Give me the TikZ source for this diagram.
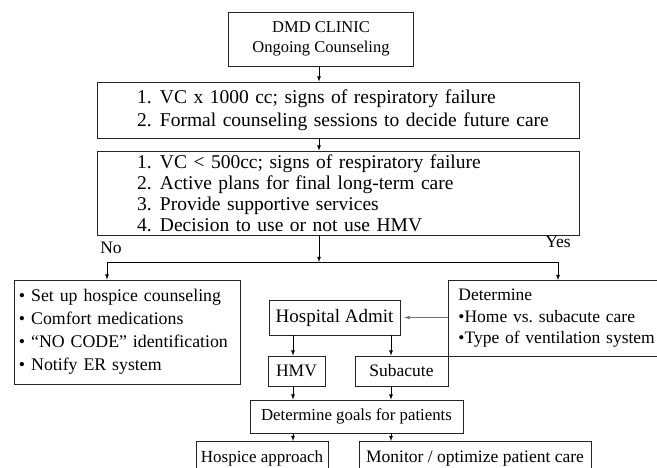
\documentclass[tikz,border=0pt]{standalone}
\usepackage{fontspec}
\setmainfont{Liberation Serif}
\usetikzlibrary{calc}

\newcommand{\itemno}[1]{\hspace*{37pt}\makebox[23pt][l]{#1}}

\begin{document}
\begin{tikzpicture}[x=1pt,y=-1pt,>=latex,
	every node/.style={font=\fontsize{17.5}{20.5}\selectfont},
	box/.style={draw=black!85,line width=0.8pt,inner xsep=3pt,inner ysep=2pt},
	listbox/.style={box,align=left},
	flow/.style={->,line width=0.8pt},
	tag/.style={inner sep=0pt}]

	\useasboundingbox (0,0) rectangle (657,467);

	\node[box,align=center,minimum width=185,minimum height=54,
	      font=\fontsize{16.5}{20}\selectfont] (clinic) at (321,39)
	      {DMD CLINIC\\Ongoing Counseling};

	\node[listbox,text width=476,minimum height=56,
	      font=\fontsize{19.5}{23.5}\selectfont] (plan1) at (338,110)
	      {\itemno{1.}VC x 1000 cc; signs of respiratory failure\\
	       \itemno{2.}Formal counseling sessions to decide future care};

	\node[listbox,text width=476,minimum height=84,inner ysep=1pt,
	      font=\fontsize{19.5}{21}\selectfont] (plan2) at (338,193)
	      {\itemno{1.}VC < 500cc; signs of respiratory failure\\
	       \itemno{2.}Active plans for final long-term care\\
	       \itemno{3.}Provide supportive services\\
	       \itemno{4.}Decision to use or not use HMV};

	\node[tag] (no) at (111,248) {No};
	\node[tag] (yes) at (558,242) {Yes};

	\node[listbox,text width=216,minimum height=104,inner xsep=5pt,
	      font=\fontsize{17.8}{23}\selectfont] (nobox) at (127,332)
	      {• Set up hospice counseling\\
	       • Comfort medications\\
	       • “NO CODE” identification\\
	       • Notify ER system};

	\node[listbox,anchor=north west,text width=206,minimum height=76,inner xsep=10pt,
	      font=\fontsize{17.5}{21.5}\selectfont] (yesbox) at (448,280)
	      {Determine\\
	       •Home vs.\ subacute care\\
	       •Type of ventilation system};

	\node[box,minimum width=131,minimum height=35,
	      font=\fontsize{19}{22}\selectfont] (hospital) at (334.5,317.5) {Hospital Admit};
	\node[box,minimum width=57,minimum height=30] (hmv) at (296.5,371) {HMV};
	\node[box,minimum width=93,minimum height=30] (subacute) at (401.5,371) {Subacute};
	\node[box,minimum width=213,minimum height=33,
	      font=\fontsize{16.8}{20}\selectfont] (goals) at (356.5,416.5)
	      {Determine goals for patients};
	\node[box,anchor=north,minimum width=132,minimum height=34,
	      font=\fontsize{17}{20}\selectfont] (hospice) at (262,441)
	      {Hospice approach};
	\node[box,anchor=north,minimum width=232,minimum height=34] (monitor) at (475,441)
	      {Monitor / optimize patient care};

	% branch points
	\coordinate (split) at (319,262);
	\coordinate (noturn) at (107,262);
	\coordinate (yesturn) at (558,262);
	\coordinate (llane) at (293,0);
	\coordinate (rlane) at (391,0);

	\draw[flow] (clinic.south -| split) -- (plan1.north -| split);
	\draw[flow] (plan1.south -| split) -- (plan2.north -| split);
	\draw[flow] (plan2.south -| split) -- (split);
	\draw[flow] (split) -- (noturn) -- (noturn |- nobox.north);
	\draw[flow] (split) -- (yesturn) -- (yesturn |- yesbox.north);

	\draw[flow,black!55,shorten >=4pt] (yesbox.west |- hospital) -- (hospital.east);

	\draw[flow] (hospital.south -| llane) -- (hmv.north -| llane);
	\draw[flow] (hospital.south -| rlane) -- (subacute.north -| rlane);
	\draw[flow] (hmv.south -| llane) -- (goals.north -| llane);
	\draw[flow] (subacute.south -| rlane) -- (goals.north -| rlane);
	\draw[flow] (goals.south -| llane) -- (hospice.north -| llane);
	\draw[flow] (goals.south -| rlane) -- (monitor.north -| rlane);

\end{tikzpicture}
\end{document}
